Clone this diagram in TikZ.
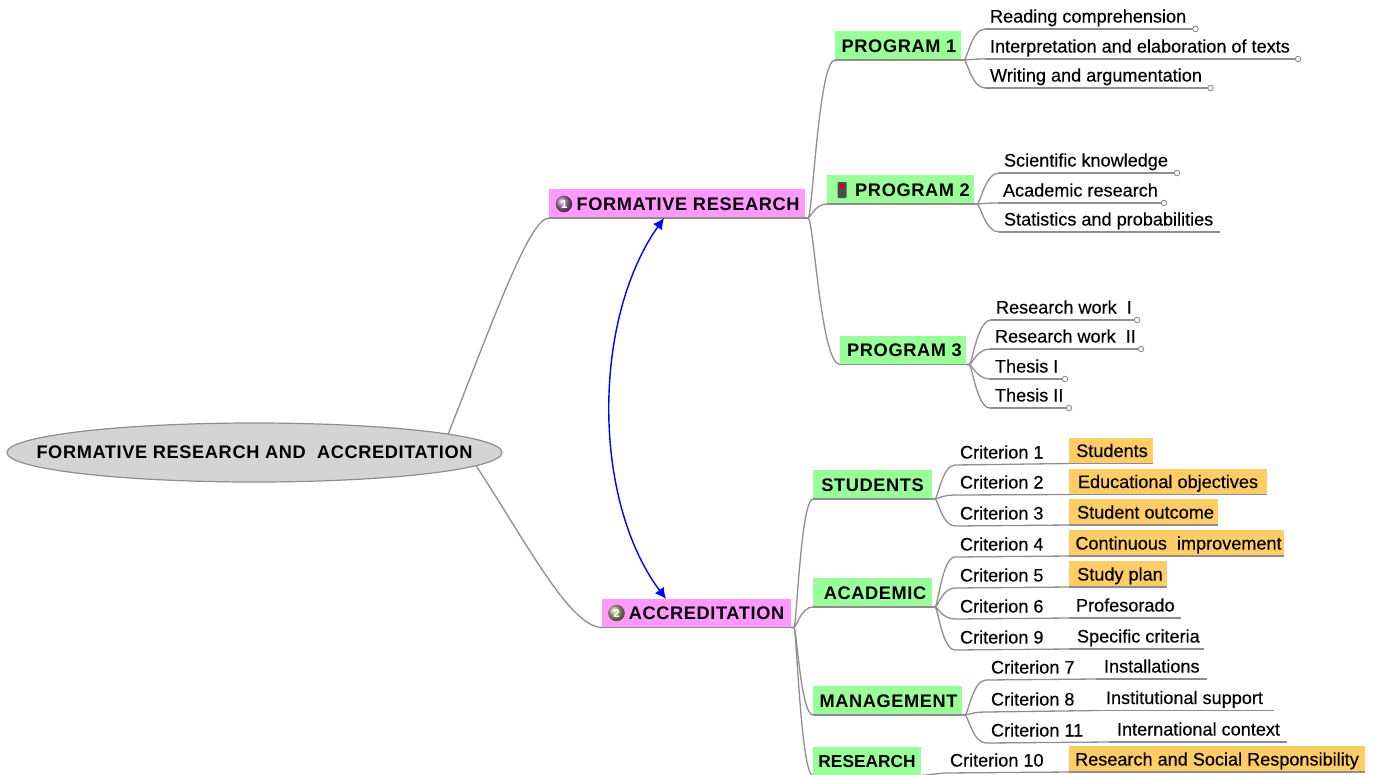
\documentclass[tikz,border=0pt]{standalone}
\usepackage{fontspec}
\setmainfont{Liberation Sans}[FakeBold=0.3]
\newfontfamily\headfont[LetterSpace=3.4]{Liberation Sans}
\newfontfamily\plainhead{Liberation Sans}
\usetikzlibrary{calc,shapes.geometric,arrows.meta}
\pgfdeclarelayer{bg}
\pgfsetlayers{bg,main}
\definecolor{wiregray}{HTML}{8E8E8E}
\definecolor{rootgray}{HTML}{D4D4D4}
\definecolor{pinkbox}{HTML}{FF99FF}
\definecolor{greenbox}{HTML}{99FF99}
\definecolor{orangebox}{HTML}{FFCC66}
\definecolor{badgeone}{HTML}{A070A0}
\definecolor{badgetwo}{HTML}{A8A878}
\tikzset{every node/.style={inner sep=0pt, outer sep=0pt}}
\tikzset{every label/.style={font=\headfont\bfseries\fontsize{18.2}{20}\selectfont}}
\tikzset{
    root/.style={ellipse, draw=wiregray, line width=1.2pt, fill=rootgray, minimum width=495pt, minimum height=59pt},
    topicbox/.style={fill=pinkbox, minimum height=29pt, text height=13pt, text depth=0pt, font=\headfont\bfseries\fontsize{18.2}{20}\selectfont},
    groupbox/.style={fill=greenbox, minimum height=29pt, text height=13pt, text depth=0pt, font=\headfont\bfseries\fontsize{18.2}{20}\selectfont},
    leaf/.style={anchor=south west, inner xsep=5pt, minimum height=26pt, text height=15pt, text depth=2pt, font=\fontsize{18.1}{20}\selectfont},
    markbox/.style={leaf, fill=orangebox, inner xsep=0pt},
    tipdot/.style={circle, draw=wiregray, fill=white, line width=.9pt, minimum size=5.5pt},
    badge/.style={circle, minimum size=16.5pt, text=white, font=\bfseries\fontsize{11}{11}\selectfont},
    wire/.style={draw=wiregray, line width=1.3pt},
    branch/.style={wire, to path={-- ($(\tikztostart)+(3,0)$) .. controls ($(\tikztostart)!0.25!(\tikztotarget |- \tikztostart)$) and ($(\tikztotarget)!0.55!(\tikztostart |- \tikztotarget)$) .. (\tikztotarget)}},
    link/.style={draw=blue, line width=1.4pt, {Latex[length=11pt,width=11pt]}-{Latex[length=11pt,width=11pt]}}
}
\begin{document}
\begin{tikzpicture}[x=1pt,y=-1pt]
        \useasboundingbox (0,0) rectangle (1375,774);
        % main topics
        \node (root) [root, label={center:{FORMATIVE RESEARCH AND\ \ ACCREDITATION}}] at (254.5,452.5) {};
        \node (form) [topicbox, minimum width=256pt] at (677,203.5) {\hspace{22pt}FORMATIVE RESEARCH};
        \node (accr) [topicbox, minimum width=189pt] at (696.5,613) {\hspace{20pt}ACCREDITATION};
        \node (badge1) [badge, ball color=badgeone] at (564,204) {1};
        \node (badge2) [badge, ball color=badgetwo] at (616.5,613) {2};
        \coordinate (rootup) at (447,437);
        \coordinate (rootdown) at (475,464);
        \coordinate (linkA) at (664,218);
        \coordinate (linkB) at (666,599);
        % program side
        \node (prog1) [groupbox, minimum width=126pt] at (898,45.5) {\hspace{2pt}PROGRAM 1};
        \node (prog2) [groupbox, minimum width=147pt] at (900.5,189.5) {\hspace{24pt}PROGRAM 2};
        \node (prog3) [groupbox, minimum width=126pt] at (903,350) {\hspace{3pt}PROGRAM 3};
        \node (lamp) [fill=black!70, rounded corners=1pt, minimum width=9pt, minimum height=16pt] at (842,190) {};
        \node (lampred) [circle, fill=red!85!black, minimum size=4.5pt] at (842,186) {};
        \node (read) [leaf] at (985,29) {Reading comprehension};
        \node (interp) [leaf] at (985,59) {Interpretation and elaboration of texts};
        \node (writing) [leaf] at (985,88) {Writing and argumentation};
        \node (scient) [leaf] at (999,173) {Scientific knowledge};
        \node (acres) [leaf] at (998,203) {Academic research};
        \node (stats) [leaf] at (999,232) {Statistics and probabilities};
        \node (work1) [leaf] at (991,320) {Research work\ \ I};
        \node (work2) [leaf] at (990,349) {Research work\ \ II};
        \node (thes1) [leaf] at (990,379) {Thesis I};
        \node (thes2) [leaf] at (990,408) {Thesis II};
        \node (readend) [tipdot] at (1195.5,29) {};
        \node (interpend) [tipdot] at (1298,59) {};
        \node (writingend) [tipdot] at (1210.5,88) {};
        \node (scientend) [tipdot] at (1177,173) {};
        \node (acresend) [tipdot] at (1164,203) {};
        \node (statsend) at (1220,232) {};
        \node (work1end) [tipdot] at (1137,320) {};
        \node (work2end) [tipdot] at (1141,349) {};
        \node (thes1end) [tipdot] at (1065,379) {};
        \node (thes2end) [tipdot] at (1069,408) {};
        % accreditation side
        \node (stud) [groupbox, minimum width=119pt] at (872.5,484.5) {STUDENTS};
        \node (acad) [groupbox, minimum width=119pt] at (872.5,592.5) {\hspace{5pt}ACADEMIC};
        \node (mana) [groupbox, minimum width=149pt] at (887.5,700.5) {\hspace{2pt}MANAGEMENT};
        \node (rese) [groupbox, minimum width=108pt, font=\plainhead\bfseries\fontsize{17.3}{20}\selectfont] at (867,761) {RESEARCH};
        \node (crit1) [leaf] at (955,465) {Criterion 1};
        \node (crit2) [leaf] at (955,495) {Criterion 2};
        \node (crit3) [leaf] at (955,526) {Criterion 3};
        \node (crit4) [leaf] at (955,557) {Criterion 4};
        \node (crit5) [leaf] at (955,588) {Criterion 5};
        \node (crit6) [leaf] at (955,619) {Criterion 6};
        \node (crit9) [leaf] at (955,650) {Criterion 9};
        \node (crit7) [leaf] at (986,680) {Criterion 7};
        \node (crit8) [leaf] at (986,712) {Criterion 8};
        \node (crit11) [leaf] at (986,743) {Criterion 11};
        \node (crit10) [leaf] at (945,773) {Criterion 10};
        \node (mstud) [markbox, minimum width=84pt] at (1069,463.5) {\hspace{2pt}Students};
        \node (mobj) [markbox, minimum width=198pt] at (1069,494.5) {Educational objectives};
        \node (mout) [markbox, minimum width=149pt] at (1069,525) {\hspace{4pt}Student outcome};
        \node (mimp) [markbox, minimum width=215pt] at (1069,556) {\hspace{4pt}Continuous\ \ improvement};
        \node (mplan) [markbox, minimum width=98pt] at (1069,587) {\hspace{4pt}Study plan};
        \node (mprof) [leaf, inner xsep=7pt] at (1069,618) {Profesorado};
        \node (mspec) [leaf, inner xsep=8pt] at (1069,649) {Specific criteria};
        \node (minst) [leaf, inner xsep=8pt] at (1096,679) {Installations};
        \node (msupp) [leaf, inner xsep=8pt] at (1098,710.5) {Institutional support};
        \node (mintl) [leaf, inner xsep=8pt] at (1109,742) {International context};
        \node (msoc) [markbox, minimum width=296pt] at (1069,772) {Research and Social Responsibility};
        \coordinate (mprofend) at (1181,618);
        \coordinate (mspecend) at (1204,649);
        \coordinate (minstend) at (1207,679);
        \coordinate (msuppend) at (1274,710.5);
        \coordinate (mintlend) at (1287,742);
        \begin{pgfonlayer}{bg}
                \draw [wire] (rootup) .. controls (497,310) and (530,218) .. (form.south west);
                \draw [wire] (rootdown) .. controls (528,545) and (570,627) .. (accr.south west);
                \draw (form.south east) edge [branch] (prog1.south west);
                \draw (form.south east) edge [branch] (prog2.south west);
                \draw (form.south east) edge [branch] (prog3.south west);
                \draw (accr.south east) edge [branch] (stud.south west);
                \draw (accr.south east) edge [branch] (acad.south west);
                \draw (accr.south east) edge [branch] (mana.south west);
                \draw (accr.south east) edge [branch] (rese.south west);
                \draw (prog1.south east) edge [branch] (read.south west);
                \draw (prog1.south east) edge [branch] (interp.south west);
                \draw (prog1.south east) edge [branch] (writing.south west);
                \draw (prog2.south east) edge [branch] (scient.south west);
                \draw (prog2.south east) edge [branch] (acres.south west);
                \draw (prog2.south east) edge [branch] (stats.south west);
                \draw (prog3.south east) edge [branch] (work1.south west);
                \draw (prog3.south east) edge [branch] (work2.south west);
                \draw (prog3.south east) edge [branch] (thes1.south west);
                \draw (prog3.south east) edge [branch] (thes2.south west);
                \draw (stud.south east) edge [branch] (crit1.south west);
                \draw (stud.south east) edge [branch] (crit2.south west);
                \draw (stud.south east) edge [branch] (crit3.south west);
                \draw (acad.south east) edge [branch] (crit4.south west);
                \draw (acad.south east) edge [branch] (crit5.south west);
                \draw (acad.south east) edge [branch] (crit6.south west);
                \draw (acad.south east) edge [branch] (crit9.south west);
                \draw (mana.south east) edge [branch] (crit7.south west);
                \draw (mana.south east) edge [branch] (crit8.south west);
                \draw (mana.south east) edge [branch] (crit11.south west);
                \draw (rese.south east) edge [wire] (crit10.south west);
                \draw (read.south west) edge [wire] (readend);
                \draw (interp.south west) edge [wire] (interpend);
                \draw (writing.south west) edge [wire] (writingend);
                \draw (scient.south west) edge [wire] (scientend);
                \draw (acres.south west) edge [wire] (acresend);
                \draw (stats.south west) edge [wire] (statsend);
                \draw (work1.south west) edge [wire] (work1end);
                \draw (work2.south west) edge [wire] (work2end);
                \draw (thes1.south west) edge [wire] (thes1end);
                \draw (thes2.south west) edge [wire] (thes2end);
                \draw (crit1.south west) edge [wire] (mstud.south west);
                \draw (crit2.south west) edge [wire] (mobj.south west);
                \draw (crit3.south west) edge [wire] (mout.south west);
                \draw (crit4.south west) edge [wire] (mimp.south west);
                \draw (crit5.south west) edge [wire] (mplan.south west);
                \draw (crit6.south west) edge [wire] (mprof.south west);
                \draw (crit9.south west) edge [wire] (mspec.south west);
                \draw (crit7.south west) edge [wire] (minst.south west);
                \draw (crit8.south west) edge [wire] (msupp.south west);
                \draw (crit11.south west) edge [wire] (mintl.south west);
                \draw (crit10.south west) edge [wire] (msoc.south west);
                \draw (mprof.south west) edge [wire] (mprofend);
                \draw (mspec.south west) edge [wire] (mspecend);
                \draw (minst.south west) edge [wire] (minstend);
                \draw (msupp.south west) edge [wire] (msuppend);
                \draw (mintl.south west) edge [wire] (mintlend);
        \end{pgfonlayer}
        % underlines of the filled boxes
        \draw (form.south west) edge [wire] (form.south east);
        \draw (accr.south west) edge [wire] (accr.south east);
        \draw (prog1.south west) edge [wire] (prog1.south east);
        \draw (prog2.south west) edge [wire] (prog2.south east);
        \draw (prog3.south west) edge [wire] (prog3.south east);
        \draw (stud.south west) edge [wire] (stud.south east);
        \draw (acad.south west) edge [wire] (acad.south east);
        \draw (mana.south west) edge [wire] (mana.south east);
        \draw (rese.south west) edge [wire] (rese.south east);
        \draw (mstud.south west) edge [wire] (mstud.south east);
        \draw (mobj.south west) edge [wire] (mobj.south east);
        \draw (mout.south west) edge [wire] (mout.south east);
        \draw (mimp.south west) edge [wire] (mimp.south east);
        \draw (mplan.south west) edge [wire] (mplan.south east);
        \draw (msoc.south west) edge [wire] (msoc.south east);
        % link between the two topics
        \draw [link] (linkA) .. controls (592,320) and (592,500) .. (linkB);
\end{tikzpicture}
\end{document}
